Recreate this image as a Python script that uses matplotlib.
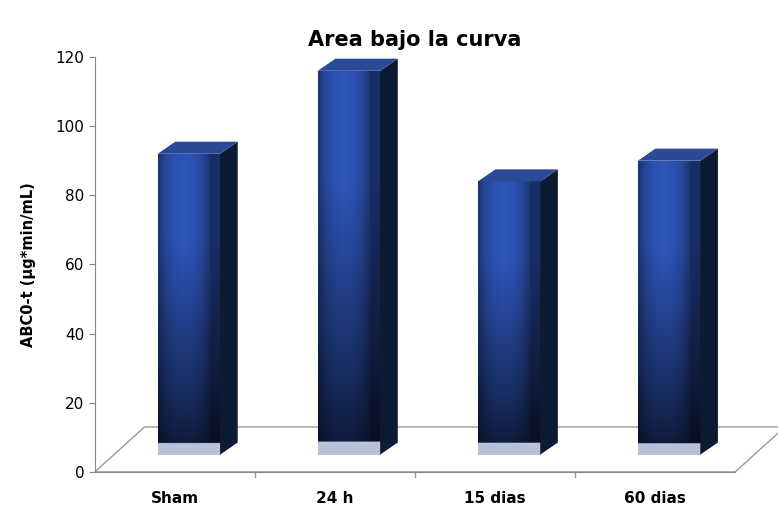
import numpy as np
import matplotlib.pyplot as plt
from matplotlib.patches import Polygon

categories = ["Sham", "24 h", "15 dias", "60 dias"]
values = [92, 116, 84, 90]

fig = plt.figure(figsize=(7.78, 5.18), dpi=100)
ax = fig.add_axes([0.122, 0.089, 0.823, 0.801])
ax.set_xlim(-0.5, 3.5)
ax.set_ylim(0, 120)
ax.set_yticks(range(0, 121, 20))
ax.set_xticks(range(4))
ax.set_xticklabels(categories, fontweight="bold", fontsize=11)
ax.tick_params(axis="y", labelsize=11, length=4, color="#888888")
ax.tick_params(axis="x", length=0, pad=14)
for s in ["top", "right"]:
    ax.spines[s].set_visible(False)
for s in ["left", "bottom"]:
    ax.spines[s].set_color("#888888")
ax.set_ylabel("ABC0-t (µg*min/mL)", fontweight="bold", fontsize=10.5, labelpad=14)
ax.set_title("Area bajo la curva", fontweight="bold", fontsize=15, pad=8)

# floor
dx, dy = 0.31, 13
floor = Polygon([(-0.5, 0), (3.5, 0), (3.5 + dx, dy), (-0.5 + dx, dy)],
                closed=True, facecolor="white", edgecolor="#999999", lw=1, clip_on=False, zorder=1)
ax.add_patch(floor)
for i in range(1, 4):
    ax.plot([i - 0.5, i - 0.5], [0, -1.5], color="#999999", lw=1, clip_on=False)

w = 0.39
off = 0.087
base = 5
ddx, ddy = 0.11, 3.5
n = 200
xs = np.linspace(0, 1, n)
hor = 0.55 + 0.45 * np.sin(np.pi * np.clip(xs * 1.2, 0, 1)) ** 0.6
for i, v in enumerate(values):
    x0 = i + off - w / 2
    x1 = x0 + w
    ys = np.linspace(0, 1, n)[:, None]
    vert = 0.25 + 0.75 * np.clip(ys * 1.4, 0, 1) ** 0.8
    shade = hor[None, :] * vert
    img = np.zeros((n, n, 3))
    img[..., 0] = 0.18 * shade
    img[..., 1] = 0.33 * shade
    img[..., 2] = 0.72 * shade
    # light base
    bottom = (ys < 0.035 * 100 / v).repeat(n, 1)
    img[bottom] = [0.72, 0.76, 0.85]
    ax.imshow(img, extent=[x0, x1, base, v], origin="lower", aspect="auto", zorder=3)
    side = Polygon([(x1, base), (x1 + ddx, base + ddy), (x1 + ddx, v + ddy), (x1, v)],
                   facecolor="#0d1a33", edgecolor="none", zorder=3)
    top = Polygon([(x0, v), (x1, v), (x1 + ddx, v + ddy), (x0 + ddx, v + ddy)],
                  facecolor="#2a4a95", edgecolor="none", zorder=3)
    ax.add_patch(side)
    ax.add_patch(top)

fig.savefig("out.png")
